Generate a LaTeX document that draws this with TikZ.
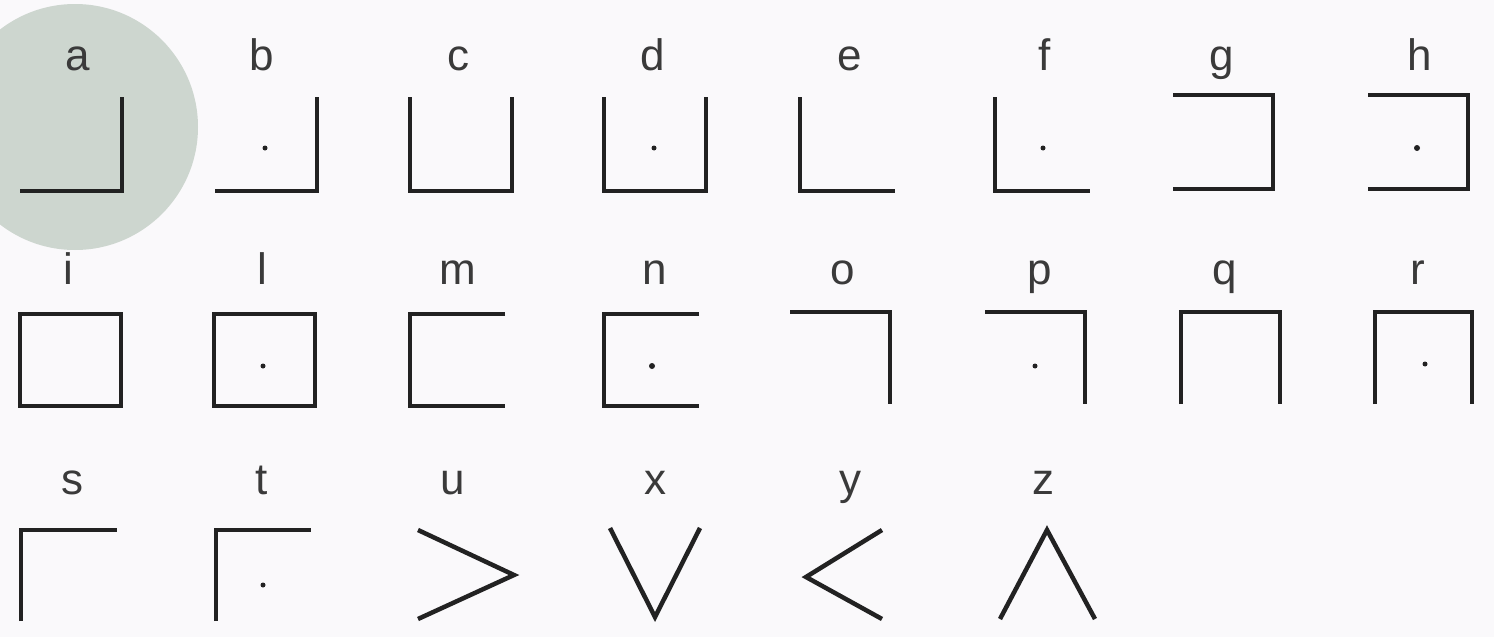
\documentclass[tikz,border=0pt]{standalone}
\usepackage{fontspec}
\setmainfont{Liberation Sans}
\definecolor{bg}{HTML}{FAF9FB}
\definecolor{disc}{HTML}{CDD6CF}
\definecolor{ink}{HTML}{222222}
\definecolor{lab}{HTML}{3A3A3A}
\begin{document}
\begin{tikzpicture}[x=1pt,y=-1pt,
  glyph/.style={draw=ink,line width=4.5pt,line join=miter,line cap=butt},
  lbl/.style={text=lab,font=\fontsize{44}{44}\selectfont,anchor=base,inner sep=0pt},
  pt/.style={fill=ink}]
\fill[bg] (0,0) rectangle (1494,637);
\useasboundingbox (0,0) rectangle (1494,637);
\fill[disc] (75,127) circle (123);
% labels
\node[lbl] (la) at (78,70) {a};
\node[lbl] (lb) at (262,70) {b};
\node[lbl] (lc) at (458,70) {c};
\node[lbl] (ld) at (653,70) {d};
\node[lbl] (le) at (850,70) {e};
\node[lbl] (lf) at (1045,70) {f};
\node[lbl] (lg) at (1222,70) {g};
\node[lbl] (lh) at (1420,70) {h};
\node[lbl] (li) at (68,284) {i};
\node[lbl] (ll) at (262,284) {l};
\node[lbl] (lm) at (458,284) {m};
\node[lbl] (ln) at (655,284) {n};
\node[lbl] (lo) at (843,284) {o};
\node[lbl] (lp) at (1040,284) {p};
\node[lbl] (lq) at (1225,284) {q};
\node[lbl] (lr) at (1418,284) {r};
\node[lbl] (ls) at (72,494) {s};
\node[lbl] (lt) at (262,494) {t};
\node[lbl] (lu) at (453,494) {u};
\node[lbl] (lx) at (655,494) {x};
\node[lbl] (ly) at (850,494) {y};
\node[lbl] (lz) at (1043,494) {z};
% row 1
\draw[glyph] (20,191) -- (122,191) -- (122,97);
\draw[glyph] (215,191) -- (317,191) -- (317,97);
\fill[pt] (265,148) circle (2.5);
\draw[glyph] (410,97) -- (410,191) -- (512,191) -- (512,97);
\draw[glyph] (604,97) -- (604,191) -- (706,191) -- (706,97);
\fill[pt] (654,148) circle (2.5);
\draw[glyph] (800,97) -- (800,191) -- (895,191);
\draw[glyph] (995,97) -- (995,191) -- (1090,191);
\fill[pt] (1043,148) circle (2.5);
\draw[glyph] (1173,95) -- (1273,95) -- (1273,189) -- (1173,189);
\draw[glyph] (1368,95) -- (1468,95) -- (1468,189) -- (1368,189);
\fill[pt] (1417,148) circle (3);
% row 2
\draw[glyph] (20,314) rectangle (121,406);
\draw[glyph] (214,314) rectangle (315,406);
\fill[pt] (263,366) circle (2.5);
\draw[glyph] (505,314) -- (410,314) -- (410,406) -- (505,406);
\draw[glyph] (699,314) -- (604,314) -- (604,406) -- (699,406);
\fill[pt] (652,366) circle (3);
\draw[glyph] (790,312) -- (890,312) -- (890,404);
\draw[glyph] (985,312) -- (1085,312) -- (1085,404);
\fill[pt] (1035,366) circle (2.5);
\draw[glyph] (1181,404) -- (1181,312) -- (1280,312) -- (1280,404);
\draw[glyph] (1375,404) -- (1375,312) -- (1472,312) -- (1472,404);
\fill[pt] (1425,364) circle (2.5);
% row 3
\draw[glyph] (21,621) -- (21,530) -- (117,530);
\draw[glyph] (216,621) -- (216,530) -- (311,530);
\fill[pt] (263,585) circle (2.5);
\draw[glyph] (418,530) -- (514,575) -- (418,619);
\draw[glyph] (610,528) -- (655,617) -- (700,528);
\draw[glyph] (882,530) -- (806,577) -- (882,619);
\draw[glyph] (1000,619) -- (1047,530) -- (1095,619);
\end{tikzpicture}
\end{document}
